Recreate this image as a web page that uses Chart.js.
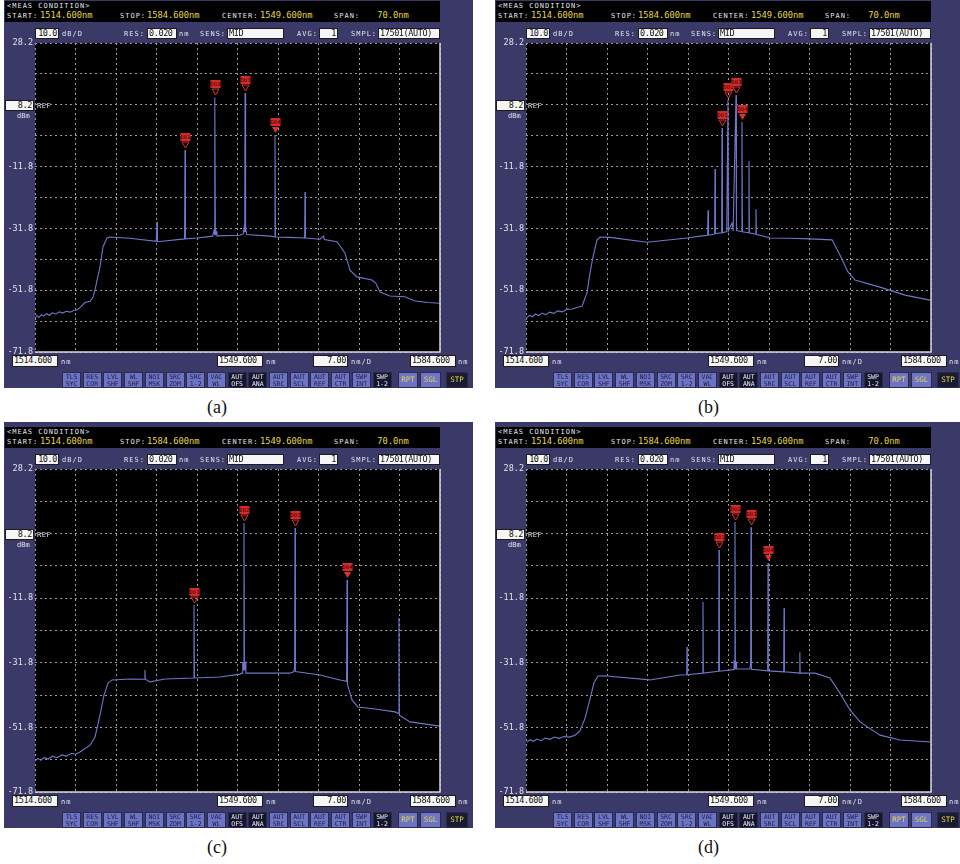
<!DOCTYPE html>
<html>
<head>
<meta charset="utf-8">
<script src="https://cdn.jsdelivr.net/npm/chart.js@4.4.0/dist/chart.umd.min.js"></script>
<style>
body { margin:0; background:#fff; width:960px; height:864px; position:relative; overflow:hidden; }
.frame { position:absolute; background:#3b3968; overflow:hidden; }
.abs { position:absolute; white-space:nowrap; }
.sm { font:7px "DejaVu Sans Mono", monospace; color:#e4e4ee; letter-spacing:1px; }
.val { font:9.5px "DejaVu Sans Mono", monospace; color:#e6d64a; transform:scaleX(0.92); transform-origin:left; }
.box { background:#f6f6f6; border:1px solid #1c1c1c; box-sizing:border-box; font:8.5px "DejaVu Sans Mono", monospace; letter-spacing:-0.4px; color:#111; line-height:9px; padding:0 1px; overflow:hidden; }
.btn { font:6.5px "DejaVu Sans Mono", monospace; line-height:6.5px; text-align:center; box-sizing:border-box; border:1px solid #2a2a50; padding-top:1px; }
.cap { position:absolute; font:18px "Liberation Serif", "DejaVu Serif", serif; color:#111; }
canvas { position:absolute; }
</style>
</head>
<body>
<script>
// grid and labels
const xGrid = [1514.6, 1521.6, 1528.6, 1535.6, 1542.6, 1549.6, 1556.6, 1563.6, 1570.6, 1577.6, 1584.6];
const yGrid = [28.2, 18.2, 8.2, -1.8, -11.8, -21.8, -31.8, -41.8, -51.8, -61.8, -71.8];
const yLabelValues = [28.2, -11.8, -31.8, -51.8, -71.8];
const markLabels = ['D01', 'D02', 'D03', 'D04'];

// (a)
const waveA = [1514.60, 1514.95, 1515.30, 1515.70, 1516.10, 1516.60, 1517.10, 1517.60, 1518.20, 1518.80, 1519.40, 1520.00, 1520.70, 1521.40, 1521.86, 1522.50, 1523.24, 1524.11, 1524.60, 1524.97, 1525.40, 1525.83, 1526.35, 1527.04, 1527.56, 1531.02, 1535.55, 1535.65, 1535.69, 1535.73, 1535.80, 1540.45, 1540.53, 1540.61, 1542.60, 1545.30, 1545.55, 1545.64, 1545.71, 1545.78, 1545.90, 1546.05, 1550.03, 1550.60, 1550.75, 1550.85, 1550.90, 1550.95, 1551.05, 1551.20, 1555.22, 1556.00, 1556.08, 1556.16, 1558.50, 1561.20, 1561.27, 1561.34, 1563.86, 1564.50, 1564.60, 1566.80, 1568.18, 1569.04, 1570.25, 1572.85, 1573.50, 1574.23, 1575.96, 1578.55, 1580.28, 1582.50, 1584.60];
const powerA = [-60.9, -60.0, -60.6, -59.7, -60.2, -59.4, -59.9, -59.1, -59.5, -58.8, -59.2, -58.6, -58.9, -58.3, -58.2, -57.2, -55.8, -55.4, -54.2, -51.7, -48.0, -44.3, -37.8, -34.9, -34.6, -35.0, -36.0, -36.0, -29.7, -36.1, -36.1, -35.2, -6.4, -35.2, -34.9, -34.3, -32.5, -34.0, 10.6, -34.0, -32.8, -34.2, -34.0, -33.6, -31.5, -33.0, 12.0, -33.0, -31.8, -33.8, -34.3, -34.6, -1.6, -34.6, -34.7, -34.9, -20.0, -34.9, -35.3, -34.3, -35.4, -36.1, -39.8, -45.3, -47.5, -48.5, -49.5, -52.4, -53.7, -53.9, -55.3, -55.8, -56.0];
const markWaveA = [1540.53, 1545.71, 1550.90, 1556.08];
const markPowerA = [-6.4, 10.6, 12.0, -1.6];

// (b)
const waveB = [1514.77, 1515.20, 1515.70, 1516.20, 1516.80, 1517.40, 1518.00, 1518.70, 1519.40, 1520.10, 1520.90, 1521.70, 1522.60, 1523.50, 1524.28, 1525.14, 1525.66, 1526.18, 1526.87, 1527.39, 1529.12, 1535.51, 1542.43, 1544.67, 1545.98, 1546.06, 1546.14, 1547.20, 1547.27, 1547.34, 1548.41, 1548.48, 1548.55, 1549.30, 1549.51, 1549.58, 1550.20, 1550.40, 1550.90, 1550.97, 1551.86, 1551.93, 1552.00, 1553.07, 1553.14, 1553.21, 1554.28, 1554.35, 1554.42, 1556.77, 1560.23, 1563.69, 1567.49, 1568.87, 1570.25, 1571.47, 1575.79, 1580.10, 1584.43];
const powerB = [-60.8, -59.9, -60.4, -59.5, -60.0, -59.2, -59.7, -58.9, -59.3, -58.5, -58.8, -58.0, -57.9, -57.3, -57.0, -52.7, -46.2, -41.0, -35.6, -34.6, -34.7, -36.3, -34.9, -34.3, -34.0, -25.9, -34.0, -33.6, -12.6, -33.5, -33.2, 0.7, -33.2, -32.8, 9.8, -32.6, -30.1, -32.6, 11.4, -32.5, -32.8, 2.6, -32.9, -33.2, -10.0, -33.3, -33.6, -25.5, -33.7, -34.9, -35.0, -35.2, -35.5, -40.4, -45.9, -48.5, -50.8, -53.4, -55.0];
const markWaveB = [1548.48, 1549.51, 1550.90, 1551.93];
const markPowerB = [0.7, 9.8, 11.4, 2.6];

// (c)
const waveC = [1514.60, 1515.10, 1515.60, 1516.20, 1516.90, 1517.60, 1518.40, 1519.20, 1520.00, 1520.90, 1521.60, 1522.38, 1524.11, 1524.97, 1525.83, 1526.53, 1527.22, 1527.91, 1531.02, 1533.55, 1533.61, 1533.67, 1534.48, 1537.07, 1542.00, 1542.08, 1542.16, 1546.58, 1550.03, 1550.40, 1550.50, 1550.62, 1550.72, 1550.80, 1550.95, 1551.05, 1551.76, 1558.67, 1559.35, 1559.47, 1559.54, 1559.61, 1563.86, 1567.32, 1568.45, 1568.53, 1568.61, 1569.39, 1570.43, 1573.37, 1576.83, 1577.45, 1577.51, 1577.57, 1579.41, 1584.60];
const powerC = [-62.2, -61.4, -62.0, -61.1, -61.6, -60.7, -61.2, -60.3, -60.7, -59.8, -60.1, -59.4, -57.3, -54.8, -48.0, -41.8, -38.1, -37.1, -36.8, -36.9, -34.0, -36.9, -37.7, -36.8, -36.5, -13.9, -36.5, -36.2, -35.3, -35.0, -31.5, -34.0, 11.5, -34.0, -31.5, -35.0, -35.0, -35.0, -34.5, -33.0, 9.9, -34.5, -35.6, -37.1, -37.5, -6.2, -38.5, -43.3, -45.5, -46.1, -47.0, -47.5, -17.9, -48.0, -50.1, -51.4];
const markWaveC = [1542.08, 1550.72, 1559.54, 1568.53];
const markPowerC = [-13.9, 11.5, 9.9, -6.2];

// (d)
const waveD = [1514.77, 1515.30, 1515.90, 1516.50, 1517.20, 1517.90, 1518.70, 1519.50, 1520.30, 1521.20, 1522.10, 1523.07, 1523.90, 1524.80, 1525.66, 1526.35, 1527.04, 1528.00, 1536.03, 1541.22, 1542.37, 1542.43, 1542.49, 1545.13, 1545.19, 1545.25, 1547.90, 1547.96, 1548.02, 1550.40, 1550.55, 1550.65, 1550.72, 1550.79, 1550.90, 1551.00, 1553.30, 1553.42, 1553.49, 1553.56, 1556.37, 1556.43, 1556.49, 1559.14, 1559.20, 1559.26, 1561.87, 1561.93, 1561.99, 1564.55, 1567.14, 1568.87, 1570.60, 1572.33, 1575.79, 1579.24, 1584.60];
const powerD = [-56.3, -55.6, -56.1, -55.4, -55.9, -55.1, -55.5, -54.8, -55.2, -54.6, -54.8, -54.2, -53.0, -49.0, -43.0, -38.0, -35.9, -35.8, -37.1, -35.6, -35.5, -26.9, -35.5, -35.0, -13.0, -35.0, -34.4, 3.1, -34.4, -33.9, -31.0, -33.7, 11.8, -33.7, -31.5, -33.7, -33.7, -32.0, 10.2, -33.8, -34.3, -0.9, -34.3, -34.6, -14.8, -34.6, -35.0, -28.5, -35.0, -35.0, -36.5, -41.2, -46.4, -50.1, -54.2, -55.7, -56.3];
const markWaveD = [1547.96, 1550.72, 1553.49, 1556.43];
const markPowerD = [3.1, 11.8, 10.2, -0.9];

const buttons = [['TLS','SYC'],['RES','COR'],['LVL','SHF'],['WL','SHF'],['NOI','MSK'],['SRC','ZOM'],['SRC','1-2'],['VAC','WL'],['AUT','OFS'],['AUT','ANA'],['AUT','SRC'],['AUT','SCL'],['AUT','REF'],['AUT','CTR'],['SWP','INT'],['SWP','1-2']];
const darkButtons = ['AUT OFS', 'AUT ANA', 'SWP 1-2'];

const panels = [
    { cap: '(a)', fx: 4, pt: 43, pb: 352, wave: waveA, power: powerA, mw: markWaveA, mp: markPowerA },
    { cap: '(b)', fx: 495, pt: 43, pb: 352, wave: waveB, power: powerB, mw: markWaveB, mp: markPowerB },
    { cap: '(c)', fx: 4, pt: 469, pb: 792, wave: waveC, power: powerC, mw: markWaveC, mp: markPowerC },
    { cap: '(d)', fx: 495, pt: 469, pb: 792, wave: waveD, power: powerD, mw: markWaveD, mp: markPowerD }
];

function put(parent, cls, x, y, w, h, text, extra) {
    const d = document.createElement('div');
    d.className = 'abs ' + cls;
    d.style.left = x + 'px';
    d.style.top = y + 'px';
    if (w) d.style.width = w + 'px';
    if (h) d.style.height = h + 'px';
    if (extra) Object.assign(d.style, extra);
    d.innerHTML = text;
    parent.appendChild(d);
    return d;
}

const bgPlugin = {
    id: 'osaBg',
    beforeDraw(chart) {
        const a = chart.chartArea;
        chart.ctx.fillStyle = '#000';
        chart.ctx.fillRect(a.left, a.top, a.right - a.left, a.bottom - a.top);
    },
    afterDraw(chart) {
        const a = chart.chartArea;
        const ctx = chart.ctx;
        ctx.save();
        ctx.strokeStyle = '#d8d8e0';
        ctx.lineWidth = 1.5;
        ctx.beginPath();
        ctx.moveTo(a.right, a.top);
        ctx.lineTo(a.right, a.bottom);
        ctx.lineTo(a.left, a.bottom);
        ctx.stroke();
        ctx.restore();
    }
};

function markerPlugin(p) {
    return {
        id: 'markers',
        afterDatasetsDraw(chart) {
            const ctx = chart.ctx;
            const xs = chart.scales.x, ys = chart.scales.y;
            ctx.save();
            p.mw.forEach(function (w, i) {
                const px = Math.round(xs.getPixelForValue(w)) + 0.5;
                const py = Math.round(ys.getPixelForValue(p.mp[i]));
                ctx.fillStyle = '#d42a2a';
                ctx.fillRect(px - 5, py - 17, 10, 8);
                ctx.fillStyle = '#3a0000';
                ctx.font = '5.5px "DejaVu Sans Mono", monospace';
                ctx.textAlign = 'center';
                ctx.textBaseline = 'middle';
                ctx.fillText(markLabels[i], px, py - 12.5);
                ctx.strokeStyle = '#e03030';
                ctx.fillStyle = '#e03030';
                ctx.lineWidth = 1;
                ctx.beginPath();
                ctx.moveTo(px - 3.5, py - 8);
                ctx.lineTo(px + 3.5, py - 8);
                ctx.lineTo(px, py - 2);
                ctx.closePath();
                if (i === 3) ctx.fill(); else ctx.stroke();
            });
            ctx.restore();
        }
    };
}

function drawPanel(p) {
    const top = p.pt - 47;
    const frame = document.createElement('div');
    frame.className = 'frame';
    frame.style.left = p.fx + 'px';
    frame.style.top = top + 'px';
    frame.style.width = '469px';
    frame.style.height = (p.pb - p.pt + 83) + 'px';
    document.body.appendChild(frame);

    const canvas = document.createElement('canvas');
    canvas.width = 446;
    canvas.height = p.pb - p.pt + 16;
    canvas.style.left = '0px';
    canvas.style.top = (p.pt - 8 - top) + 'px';
    frame.appendChild(canvas);

    new Chart(canvas, {
        type: 'line',
        data: {
            datasets: [{
                data: p.wave.map(function (w, i) { return { x: w, y: p.power[i] }; }),
                borderColor: '#7077ca',
                borderWidth: 1.1,
                pointRadius: 0,
                tension: 0
            }]
        },
        options: {
            responsive: false,
            animation: false,
            layout: { padding: { top: 8, bottom: 8, left: 0, right: 10 } },
            plugins: { legend: { display: false }, tooltip: { enabled: false } },
            scales: {
                x: {
                    type: 'linear',
                    min: 1514.6,
                    max: 1584.6,
                    afterBuildTicks: function (s) { s.ticks = xGrid.map(function (v) { return { value: v }; }); },
                    afterFit: function (s) { s.height = 0; },
                    ticks: { display: false },
                    grid: { color: '#9a9aa2', lineWidth: 1, drawTicks: false },
                    border: { display: false, dash: [2, 3] }
                },
                y: {
                    min: -71.8,
                    max: 28.2,
                    afterBuildTicks: function (s) { s.ticks = yGrid.map(function (v) { return { value: v }; }); },
                    afterFit: function (s) { s.width = 31; },
                    ticks: {
                        autoSkip: false,
                        padding: 2,
                        color: '#e2e2ec',
                        font: { family: '"DejaVu Sans Mono", monospace', size: 8.5 },
                        callback: function (v) {
                            return yLabelValues.some(function (l) { return Math.abs(l - v) < 1e-6; }) ? v.toFixed(1) : '';
                        }
                    },
                    grid: { color: '#9a9aa2', lineWidth: 1, drawTicks: false },
                    border: { display: false, dash: [2, 3] }
                }
            }
        },
        plugins: [bgPlugin, markerPlugin(p)]
    });

    // header
    const hy = p.pt - 42 - top;
    const hb = put(frame, '', 1, hy, 435, 21, '', { background: '#000' });
    put(hb, 'sm', 2, 1, 0, 0, '&lt;MEAS CONDITION&gt;');
    put(hb, 'sm', 2, 11, 0, 0, 'START:');
    put(hb, 'val', 35, 8, 0, 0, '1514.600nm');
    put(hb, 'sm', 115, 11, 0, 0, 'STOP:');
    put(hb, 'val', 142, 8, 0, 0, '1584.600nm');
    put(hb, 'sm', 217, 11, 0, 0, 'CENTER:');
    put(hb, 'val', 255, 8, 0, 0, '1549.600nm');
    put(hb, 'sm', 329, 11, 0, 0, 'SPAN:');
    put(hb, 'val', 367, 8, 0, 0, '&nbsp;70.0nm');

    // settings row
    const ry = p.pt - 15 - top;
    put(frame, 'box', 31, ry, 24, 11, '10.0', { textAlign: 'right' });
    put(frame, 'sm', 58, ry + 2, 0, 0, 'dB/D');
    put(frame, 'sm', 120, ry + 2, 0, 0, 'RES:');
    put(frame, 'box', 143, ry, 30, 11, '0.020');
    put(frame, 'sm', 175, ry + 2, 0, 0, 'nm');
    put(frame, 'sm', 196, ry + 2, 0, 0, 'SENS:');
    put(frame, 'box', 223, ry, 57, 11, 'MID');
    put(frame, 'sm', 293, ry + 2, 0, 0, 'AVG:');
    put(frame, 'box', 315, ry, 19, 11, '1', { textAlign: 'right' });
    put(frame, 'sm', 347, ry + 2, 0, 0, 'SMPL:');
    put(frame, 'box', 374, ry, 62, 11, '17501(AUTO)');

    // reference level
    const refY = p.pt + 0.2 * (p.pb - p.pt) - top;
    put(frame, 'box', 1, refY - 5, 29, 11, '8.2', { textAlign: 'right' });
    put(frame, 'sm', 33, refY - 3, 0, 0, 'REF', { letterSpacing: '0.5px' });
    put(frame, 'sm', 13, refY + 7, 0, 0, 'dBm', { letterSpacing: '0px' });

    // bottom row
    const by = p.pb + 3 - top;
    put(frame, 'box', 8, by, 46, 12, '1514.600');
    put(frame, 'sm', 57, by + 3, 0, 0, 'nm');
    put(frame, 'box', 213, by, 46, 12, '1549.600');
    put(frame, 'sm', 262, by + 3, 0, 0, 'nm');
    put(frame, 'box', 309, by, 35, 12, '7.00', { textAlign: 'right' });
    put(frame, 'sm', 347, by + 3, 0, 0, 'nm/D');
    put(frame, 'box', 406, by, 46, 12, '1584.600');
    put(frame, 'sm', 454, by + 3, 0, 0, 'nm');

    // softkeys
    const ky = p.pb + 20 - top;
    buttons.forEach(function (b, i) {
        const dark = darkButtons.indexOf(b.join(' ')) >= 0;
        put(frame, 'btn', 58 + i * 20.7, ky, 19, 16, b[0] + '<br>' + b[1], {
            background: dark ? '#15152e' : '#6d74c6',
            color: dark ? '#ececf4' : '#1c1c3c'
        });
    });
    put(frame, 'btn', 394, ky, 20, 16, 'RPT', { background: '#6d74c6', color: '#e6d64a', paddingTop: '4px', fontSize: '7.5px' });
    put(frame, 'btn', 416, ky, 21, 16, 'SGL', { background: '#6d74c6', color: '#e6d64a', paddingTop: '4px', fontSize: '7.5px' });
    put(frame, 'btn', 442, ky, 22, 16, 'STP', { background: '#1a1a30', color: '#e6d64a', paddingTop: '4px', fontSize: '7.5px' });

    const cap = document.createElement('div');
    cap.className = 'cap';
    cap.textContent = p.cap;
    cap.style.left = (p.fx + 203) + 'px';
    cap.style.top = (p.pb + 45) + 'px';
    document.body.appendChild(cap);
}

panels.forEach(drawPanel);
</script>
</body>
</html>
